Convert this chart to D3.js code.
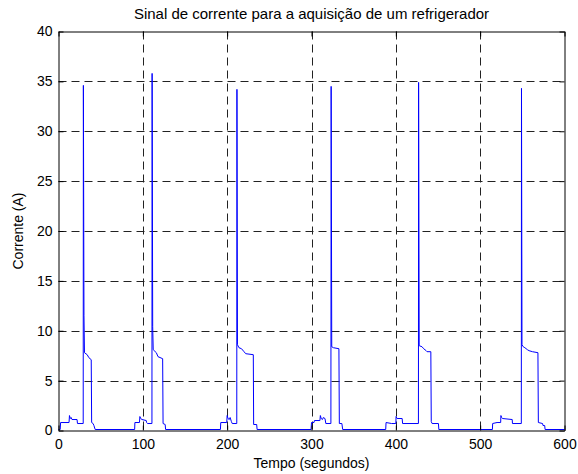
<!DOCTYPE html>
<html>
<head>
<meta charset="utf-8">
<script src="https://cdn.jsdelivr.net/npm/d3@7"></script>
<style>
  html, body { margin: 0; padding: 0; background: #fff; }
  svg { display: block; }
  text { font-family: "Liberation Sans", Arial, Helvetica, sans-serif; fill: #000; }
</style>
</head>
<body>
<svg id="chart" width="578" height="474"></svg>
<script>
// ---- data ----
const title = "Sinal de corrente para a aquisição de um refrigerador";
const xLabel = "Tempo (segundos)";
const yLabel = "Corrente (A)";
const xTicks = [0, 100, 200, 300, 400, 500, 600];
const yTicks = [0, 5, 10, 15, 20, 25, 30, 35, 40];

// time (s)
const tempo = [
  0, 2, 2.5, 12.5, 13, 14, 15, 16, 22, 22.5, 29.3, 29.5, 30.2, 30.8, 34, 36, 38.8, 39.3, 41, 42, 43.5,
  90.3, 90.6, 96, 96.5, 97.5, 99, 104, 104.5, 105.5, 110.8, 111, 111.7, 112.3, 116, 118, 123.5, 124, 126.5, 127,
  192, 192.4, 199.5, 200, 201, 202.5, 203.5, 205, 206, 211.4, 211.6, 212.2, 214, 217, 220, 222, 231, 231.4, 235, 235.5,
  299.5, 300, 303, 303.5, 310, 310.5, 311.5, 313, 314, 316, 317, 323, 323.3, 324, 326, 332.5, 333, 336, 337,
  388, 388.4, 395, 400, 400.3, 401.5, 407.5, 408, 426.8, 427, 427.7, 431, 433, 436, 437, 441.5, 442, 443, 450.5, 451,
  514.5, 514.8, 520, 524.3, 524.6, 525.5, 526.5, 538, 538.3, 548.8, 549, 549.6, 551, 553, 556, 558, 562, 568.5, 569, 574, 574.5, 576.5, 577, 600
];
// current (A)
const corrente = [
  0.1, 0.1, 0.8, 0.8, 1.5, 1.2, 1.3, 1.1, 1.1, 0.7, 0.7, 34.6, 11.5, 7.8, 7.6, 7.3, 7.1, 0.8, 0.7, 0.5, 0.1,
  0.1, 0.8, 0.8, 1.4, 1.2, 1.1, 1.0, 0.8, 0.7, 0.7, 35.8, 10.4, 8.1, 7.8, 7.4, 7.2, 0.7, 0.6, 0.1,
  0.1, 0.8, 0.8, 1.5, 1.2, 1.1, 1.3, 0.9, 0.7, 0.7, 34.2, 8.6, 8.3, 8.2, 7.9, 7.7, 7.6, 0.6, 0.6, 0.1,
  0.1, 0.8, 0.8, 1.0, 1.0, 1.5, 1.2, 1.1, 1.3, 1.2, 0.7, 0.7, 34.5, 8.4, 8.3, 8.2, 0.7, 0.7, 0.1,
  0.1, 0.8, 0.7, 0.7, 1.4, 1.2, 1.2, 0.7, 0.7, 34.9, 8.5, 8.4, 8.2, 8.0, 7.9, 7.9, 0.9, 0.7, 0.7, 0.1,
  0.1, 0.7, 0.8, 0.8, 1.5, 1.3, 1.2, 1.1, 0.7, 0.7, 34.3, 8.6, 8.4, 8.3, 8.1, 8.0, 7.9, 7.8, 0.8, 0.7, 0.5, 0.5, 0.1, 0.1
];

// ---- chart ----
const svg = d3.select("#chart");
svg.append("rect").attr("width", 578).attr("height", 474).attr("fill", "#fff");

const L = 58.5, R = 564.5, T = 31.5, B = 430.5;
const x = d3.scaleLinear().domain([0, 600]).range([L, R]);
const y = d3.scaleLinear().domain([0, 40]).range([B, T]);

const tickFont = "14px";
const labelFont = "14px";
const titleFont = "15px";

// grid
const grid = svg.append("g");
grid.selectAll("line.gx").data(xTicks.filter(d => d > 0 && d < 600)).enter().append("line")
  .attr("x1", d => Math.round(x(d)) + 0.5).attr("x2", d => Math.round(x(d)) + 0.5)
  .attr("y1", T).attr("y2", B)
  .attr("stroke", "#222").attr("stroke-width", 1).attr("stroke-dasharray", "8,5");
grid.selectAll("line.gy").data(yTicks.filter(d => d > 0 && d < 40)).enter().append("line")
  .attr("x1", L).attr("x2", R)
  .attr("y1", d => Math.round(y(d)) + 0.5).attr("y2", d => Math.round(y(d)) + 0.5)
  .attr("stroke", "#222").attr("stroke-width", 1).attr("stroke-dasharray", "8,5");

// signal
const pts = tempo.map((t, i) => [t, corrente[i]]);
svg.append("path")
  .datum(pts)
  .attr("fill", "none")
  .attr("stroke", "#0000ff")
  .attr("stroke-width", 1)
  .attr("d", d3.line().x(d => x(d[0])).y(d => y(d[1])));

// axes (ticks inward, box)
const xAxisB = d3.axisBottom(x).tickValues(xTicks).tickSizeInner(-5).tickSizeOuter(0).tickPadding(9).tickFormat(d3.format("d"));
const xAxisT = d3.axisTop(x).tickValues(xTicks).tickSizeInner(-5).tickSizeOuter(0).tickFormat("");
const yAxisL = d3.axisLeft(y).tickValues(yTicks).tickSizeInner(-5).tickSizeOuter(0).tickPadding(6).tickFormat(d3.format("d"));
const yAxisR = d3.axisRight(y).tickValues(yTicks).tickSizeInner(-5).tickSizeOuter(0).tickFormat("");

function styleAxis(g) {
  g.selectAll("path.domain").attr("stroke", "#000").attr("stroke-width", 1);
  g.selectAll(".tick line").attr("stroke", "#000");
  g.selectAll(".tick text").style("font-size", tickFont).style("font-family", "'Liberation Sans', Arial, sans-serif").attr("fill", "#000");
}
svg.append("g").attr("transform", `translate(0,${B})`).call(xAxisB).call(styleAxis);
svg.append("g").attr("transform", `translate(0,${T})`).call(xAxisT).call(styleAxis);
svg.append("g").attr("transform", `translate(${L},0)`).call(yAxisL).call(styleAxis);
svg.append("g").attr("transform", `translate(${R},0)`).call(yAxisR).call(styleAxis);

// labels
svg.append("text").attr("x", (L + R) / 2).attr("y", 19).attr("text-anchor", "middle")
  .style("font-size", titleFont).text(title);
svg.append("text").attr("x", (L + R) / 2).attr("y", 468).attr("text-anchor", "middle")
  .style("font-size", labelFont).text(xLabel);
svg.append("text").attr("transform", `translate(23,${(T + B) / 2}) rotate(-90)`).attr("text-anchor", "middle")
  .style("font-size", labelFont).text(yLabel);
</script>
</body>
</html>
